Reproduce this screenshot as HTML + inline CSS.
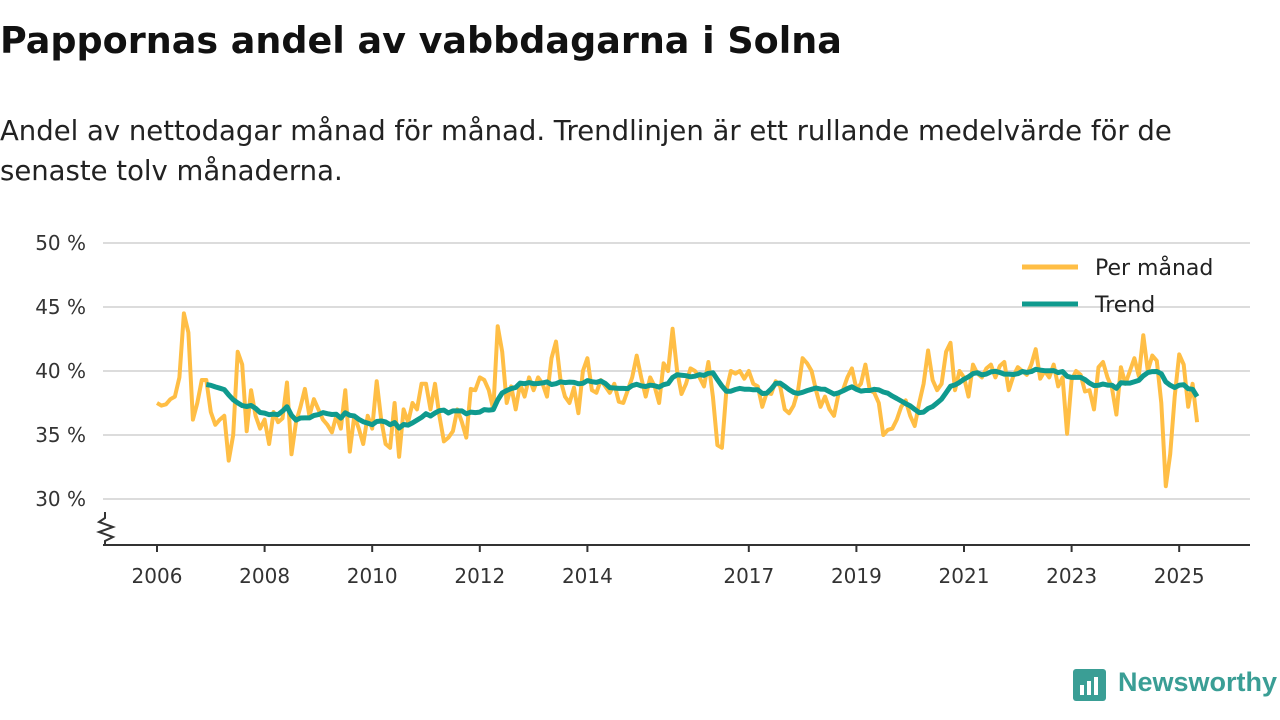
<!DOCTYPE html>
<html><head><meta charset="utf-8">
<style>
body{margin:0;width:1280px;height:720px;background:#fff;font-family:"DejaVu Sans","Liberation Sans",sans-serif;overflow:hidden;position:relative}
h1{position:absolute;left:0;top:19px;margin:0;font-size:36.5px;font-weight:bold;color:#111}
.sub{position:absolute;left:0;top:111px;font-size:27.5px;line-height:40px;color:#222;width:1235px}
svg{position:absolute;left:0;top:0;font-family:"DejaVu Sans","Liberation Sans",sans-serif}
</style></head><body>
<h1>Pappornas andel av vabbdagarna i Solna</h1>
<div class="sub">Andel av nettodagar månad för månad. Trendlinjen är ett rullande medelvärde för de senaste tolv månaderna.</div>
<svg id="chart" width="1280" height="720"></svg>
<div style="position:absolute;left:1073px;top:667px;width:207px;height:40px">
<div style="position:absolute;left:0;top:2px;width:33px;height:32px;background:#3a9e95;border-radius:3px"></div>
<div style="position:absolute;left:7px;top:18px;width:4px;height:10px;background:#fff"></div>
<div style="position:absolute;left:14px;top:14px;width:4px;height:14px;background:#fff"></div>
<div style="position:absolute;left:21px;top:10px;width:4px;height:18px;background:#fff"></div>
<span style="position:absolute;left:45px;top:0px;font-size:27px;font-weight:bold;color:#3a9e95;font-family:'Liberation Sans',sans-serif">Newsworthy</span>
</div>
<script>
const startYear=2006;
const monthly=[
37.5,37.3,37.4,37.8,38.0,39.5,44.5,43.0,36.2,37.5,39.3,39.3,
36.8,35.8,36.2,36.5,33.0,35.0,41.5,40.5,35.3,38.5,36.5,35.5,
36.2,34.3,36.8,36.0,36.3,39.1,33.5,36.0,37.2,38.6,36.5,37.8,
37.0,36.2,35.8,35.2,36.5,35.5,38.5,33.7,36.5,35.5,34.3,36.5,
35.5,39.2,36.2,34.3,34.0,37.5,33.3,37.0,36.0,37.5,37.0,39.0,
39.0,37.0,39.0,36.5,34.5,34.8,35.3,37.0,36.0,34.8,38.6,38.5,
39.5,39.3,38.5,37.0,43.5,41.5,37.5,38.8,37.0,39.0,38.0,39.5,
38.5,39.5,39.0,38.0,41.0,42.3,39.3,38.0,37.5,38.7,36.7,40.0,
41.0,38.5,38.3,39.3,38.8,38.3,39.0,37.6,37.5,38.5,39.5,41.2,
39.5,38.0,39.5,38.8,37.5,40.6,40.0,43.3,40.0,38.2,39.0,40.2,
40.0,39.5,38.8,40.7,38.0,34.2,34.0,38.5,40.0,39.8,40.0,39.4,
40.0,39.0,38.8,37.2,38.3,38.2,39.2,38.8,37.0,36.7,37.3,38.5,
41.0,40.6,40.0,38.5,37.2,38.0,37.0,36.5,38.2,38.5,39.5,40.2,
38.6,39.0,40.5,38.5,38.3,37.5,35.0,35.4,35.5,36.2,37.2,37.7,
36.5,35.7,37.5,39.0,41.6,39.3,38.5,39.0,41.5,42.2,38.5,40.0,
39.5,38.0,40.5,39.8,39.5,40.2,40.5,39.5,40.4,40.7,38.5,39.6,
40.3,40.0,39.7,40.5,41.7,39.4,40.0,39.5,40.5,38.8,39.5,35.1,
39.3,40.0,39.7,38.4,38.5,37.0,40.3,40.7,39.5,38.7,36.6,40.3,
39.0,40.0,41.0,39.6,42.8,40.0,41.2,40.8,37.5,31.0,33.5,38.0,
41.3,40.5,37.2,39.0,36.0];
const yTicks=[30,35,40,45,50];
const xTickYears=[2006,2008,2010,2012,2014,2017,2019,2021,2023,2025];
const trendWindow=12;

const NS="http://www.w3.org/2000/svg";
const svg=document.getElementById('chart');
function x(t){return 157+(t-2006)*53.8;}
function y(v){return 499-(v-30)*12.8;}
function mk(tag,attrs){const e=document.createElementNS(NS,tag);for(const k in attrs)e.setAttribute(k,attrs[k]);svg.appendChild(e);return e;}
yTicks.forEach(v=>{
  const g=mk('line',{x1:103,x2:1250,y1:y(v),y2:y(v),stroke:'#dcdcdc','stroke-width':2});
  
  
  const t=mk('text',{x:86,y:y(v)+7,'text-anchor':'end','font-size':20,fill:'#333'});
  t.textContent=v+' %';
  
  
});
const ax=mk('line',{x1:103,x2:1250,y1:545,y2:545,stroke:'#333','stroke-width':2});


const br=mk('path',{d:'M105 512 L105 518 L99 522 L113 527 L99 532 L113 537 L105 541 L105 545',fill:'none',stroke:'#333','stroke-width':2});


xTickYears.forEach(yr=>{
  const l=mk('line',{x1:x(yr),x2:x(yr),y1:545,y2:552,stroke:'#333','stroke-width':2});
  
  
  const t=mk('text',{x:x(yr),y:583,'text-anchor':'middle','font-size':20,fill:'#333'});
  t.textContent=yr;
  
  
});
function tOf(i){return startYear+i/12;}
const mp=monthly.map((v,i)=>x(tOf(i)).toFixed(1)+','+y(v).toFixed(1)).join(' ');
const ml=mk('polyline',{points:mp,fill:'none',stroke:'#ffbe45','stroke-width':4,'stroke-linejoin':'round'});


const tp=[];
for(let i=trendWindow-1;i<monthly.length;i++){
  let s=0;for(let j=i-trendWindow+1;j<=i;j++)s+=monthly[j];
  tp.push(x(tOf(i)).toFixed(1)+','+y(s/trendWindow).toFixed(1));
}
const tl=mk('polyline',{points:tp.join(' '),fill:'none',stroke:'#0f9a8e','stroke-width':5,'stroke-linejoin':'round'});


const legends=[['Per månad','#ffbe45',267],['Trend','#0f9a8e',304]];
legends.forEach(([lab,col,ly])=>{
  const l=mk('line',{x1:1022,x2:1078,y1:ly,y2:ly,stroke:col,'stroke-width':5});
  
  
  const t=mk('text',{x:1095,y:ly+8,'font-size':22,fill:'#222'});
  t.textContent=lab;
  
  
});
</script>
</body></html>
